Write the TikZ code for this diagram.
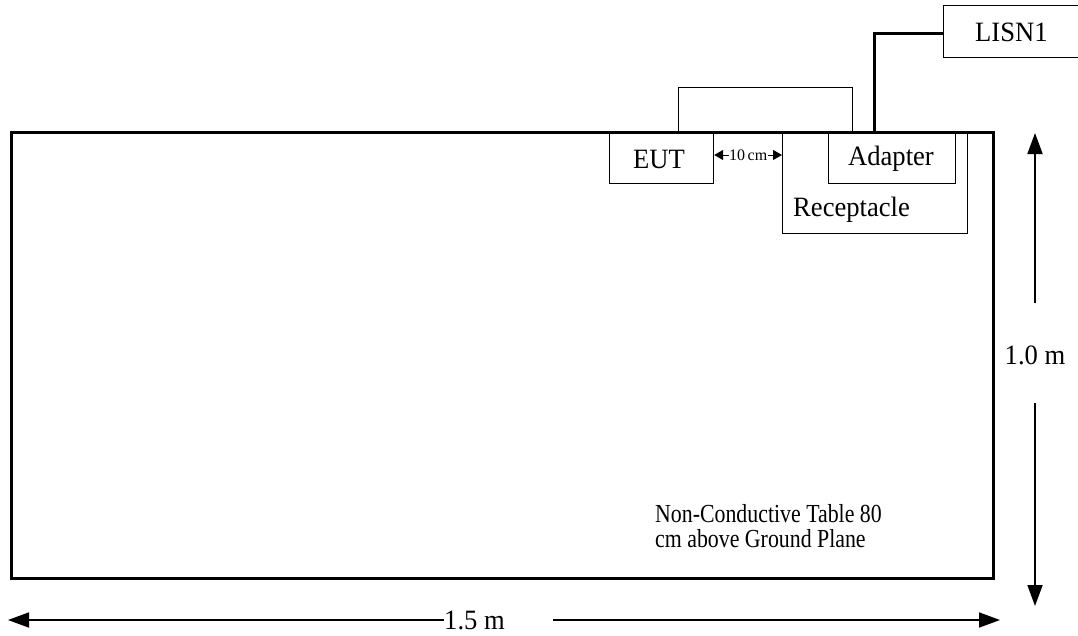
\documentclass[tikz,border=0pt]{standalone}
\usepackage{fontspec}
\setmainfont{Liberation Serif}
\usetikzlibrary{arrows.meta}
\newcommand{\lbltext}[1]{\scalebox{0.95}[1]{#1}}
\begin{document}
\begin{tikzpicture}[x=1pt,y=-1pt,
  thinbox/.style={draw,line width=1.2pt,inner sep=0pt},
  heavy/.style={line width=3pt},
  thin line/.style={line width=1pt},
  bigtip/.style={-{Triangle[length=21pt,width=15pt]}},
  lbl/.style={font=\fontsize{28}{30}\selectfont,inner sep=0pt},
  note/.style={font=\fontsize{26}{25}\selectfont,inner sep=0pt}]
\useasboundingbox (0,0) rectangle (1078,635);
\clip (0,0) rectangle (1078,635);
% table
\node[draw,heavy,minimum width=982pt,minimum height=446pt,anchor=north west,inner sep=0pt] (table) at (10,131) {};
% LISN1
\node[thinbox,minimum width=145pt,minimum height=52pt,anchor=north west] (lisnbox) at (943,5) {};
\node[lbl,anchor=west] (lisn) at (975,32) {\lbltext{LISN1}};
% receptacle
\node[thinbox,minimum width=185pt,minimum height=102pt,anchor=north west] (rec) at (782,131) {};
\node[lbl,anchor=west] (reclbl) at (793,210) {\lbltext{Receptacle}};
% adapter
\node[thinbox,minimum width=127pt,minimum height=52pt,anchor=north west] (adp) at (828,131) {};
\node[lbl] (adplbl) at (891,159) {\lbltext{Adapter}};
% EUT
\node[thinbox,minimum width=104pt,minimum height=52pt,anchor=north west] (eut) at (609,131) {};
\node[lbl] (eutlbl) at (659,159) {\lbltext{EUT}};
% power cable to LISN
\coordinate (cbend) at (874,33);
\draw[heavy] (lisnbox.west |- 0,33) -- (cbend) -- (874,131);
% thin loop cable
\draw[thin line] (678,131) -- (678,87) -- (852,87) -- (852,131);
% 10 cm
\draw[line width=1pt,{Triangle[length=9pt,width=10pt]}-{Triangle[length=9pt,width=10pt]}] (eut.east |- 0,155) -- node[fill=white,inner sep=0.3pt,font=\fontsize{16}{16}\selectfont] (tencm) {10\,cm} (rec.west |- 0,155);
% vertical dimension
\node[lbl] (hdim) at (1035,355) {\lbltext{1.0 m}};
\coordinate (vtop) at (1035,133);
\coordinate (vbot) at (1035,606);
\draw[line width=1.8pt,bigtip] (1035,303) -- (vtop);
\draw[line width=1.8pt,bigtip] (1035,403) -- (vbot);
% horizontal dimension
\node[lbl,anchor=west] (wdim) at (444,620) {\lbltext{1.5 m}};
\coordinate (hl) at (8,620);
\coordinate (hr) at (1000,620);
\draw[line width=1.8pt,bigtip] (wdim.west) -- (hl);
\draw[line width=1.8pt,bigtip] (553,620) -- (hr);
% table note
\node[note,anchor=base west] (note) at (655,522) {\scalebox{0.84}[1]{\begin{tabular}[t]{@{}l@{}}Non-Conductive Table 80\\cm above Ground Plane\end{tabular}}};
\end{tikzpicture}
\end{document}
